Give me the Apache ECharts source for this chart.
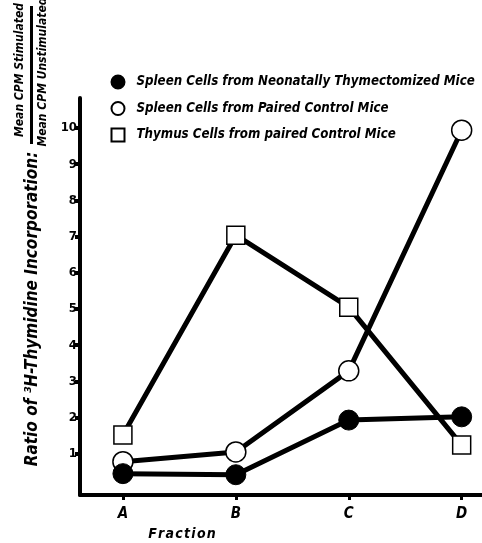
<!DOCTYPE html>
<html>
<head>
<meta charset="utf-8">
<script src="https://cdn.jsdelivr.net/npm/echarts@6/dist/echarts.min.js"></script>
<style>
  html, body { margin: 0; padding: 0; background: #fff; }
  #chart { width: 482px; height: 543px; }
</style>
</head>
<body>
<div id="chart"></div>
<script>
// fractions on the x axis
var categories = ['A', 'B', 'C', 'D']
// ratio values
var neonatalSpleen = [0.45, 0.42, 1.93, 2.02]
var pairedSpleen = [0.78, 1.05, 3.29, 9.94]
var pairedThymus = [1.52, 7.04, 5.05, 1.24]
var yTicks = [1, 2, 3, 4, 5, 6, 7, 8, 9, 10]

var seriesNames = [
  'Spleen Cells from Neonatally Thymectomized Mice',
  'Spleen Cells from Paired Control Mice',
  'Thymus Cells from paired Control Mice'
]

var FONT = '"DejaVu Sans Condensed", "Liberation Sans", sans-serif'

function toPoints(values) {
  var pts = []
  for (var i = 0; i < values.length; ++i) {
    pts.push([i, values[i]])
  }
  return pts
}

var chart = echarts.init(document.getElementById('chart'))

chart.setOption({
  animation: false,
  backgroundColor: '#fff',
  grid: {
    left: 80,
    right: 0,
    top: 98,
    bottom: 48
  },
  legend: {
    orient: 'vertical',
    left: 105.5,
    top: 69.5,
    itemWidth: 13,
    itemHeight: 13,
    itemGap: 11.5,
    data: [
      { name: seriesNames[0], icon: 'circle' },
      { name: seriesNames[1], icon: 'circle' },
      { name: seriesNames[2], icon: 'rect' }
    ],
    textStyle: {
      fontFamily: FONT,
      fontWeight: 'bold',
      fontStyle: 'italic',
      fontSize: 13.2,
      lineHeight: 15,
      color: '#000',
      padding: [0, 0, 0, 7]
    }
  },
  xAxis: {
    type: 'value',
    min: -0.38,
    max: 3.18,
    splitLine: { show: false },
    axisLine: { onZero: false, lineStyle: { color: '#000', width: 4 } },
    axisTick: { customValues: [0, 1, 2, 3], length: 5, lineStyle: { color: '#000', width: 3 } },
    axisLabel: {
      customValues: [0, 1, 2, 3],
      formatter: function (v) { return categories[Math.round(v)] },
      margin: 12,
      fontFamily: FONT,
      fontWeight: 'bold',
      fontStyle: 'italic',
      fontSize: 15,
      color: '#000'
    }
  },
  yAxis: {
    type: 'value',
    min: -0.14,
    max: 10.83,
    splitLine: { show: false },
    axisLine: { onZero: false, lineStyle: { color: '#000', width: 4 } },
    axisTick: { customValues: yTicks, length: 5, lineStyle: { color: '#000', width: 4 } },
    axisLabel: {
      customValues: yTicks,
      margin: 3,
      fontFamily: FONT,
      fontWeight: 'bold',
      fontSize: 13,
      color: '#000'
    }
  },
  graphic: [
    {
      type: 'text',
      x: 33,
      y: 309,
      rotation: Math.PI / 2,
      style: {
        text: 'Ratio of \u00b3H-Thymidine Incorporation:',
        align: 'center',
        verticalAlign: 'middle',
        font: 'italic bold 17px ' + FONT,
        fill: '#000'
      }
    },
    {
      type: 'text',
      x: 20,
      y: 70,
      rotation: Math.PI / 2,
      style: {
        text: 'Mean CPM Stimulated',
        align: 'center',
        verticalAlign: 'middle',
        font: 'italic bold 12px ' + FONT,
        fill: '#000'
      }
    },
    {
      type: 'rect',
      shape: { x: 30, y: 6, width: 3, height: 138 },
      style: { fill: '#000' }
    },
    {
      type: 'text',
      x: 43,
      y: 72,
      rotation: Math.PI / 2,
      style: {
        text: 'Mean CPM Unstimulated',
        align: 'center',
        verticalAlign: 'middle',
        font: 'italic bold 12px ' + FONT,
        fill: '#000'
      }
    },
    {
      type: 'text',
      x: 182,
      y: 534,
      style: {
        text: 'F\u200ar\u200aa\u200ac\u200at\u200ai\u200ao\u200an',
        align: 'center',
        verticalAlign: 'middle',
        font: 'italic bold 14px ' + FONT,
        fill: '#000'
      }
    }
  ],
  series: [
    {
      name: seriesNames[2],
      type: 'line',
      data: toPoints(pairedThymus),
      symbol: 'rect',
      symbolSize: 18,
      lineStyle: { color: '#000', width: 5 },
      itemStyle: { color: '#fff', borderColor: '#000', borderWidth: 1.5 }
    },
    {
      name: seriesNames[1],
      type: 'line',
      data: toPoints(pairedSpleen),
      symbol: 'circle',
      symbolSize: 20,
      lineStyle: { color: '#000', width: 5 },
      itemStyle: { color: '#fff', borderColor: '#000', borderWidth: 1.5 }
    },
    {
      name: seriesNames[0],
      type: 'line',
      data: toPoints(neonatalSpleen),
      symbol: 'circle',
      symbolSize: 20,
      lineStyle: { color: '#000', width: 5 },
      itemStyle: { color: '#000', borderColor: '#000', borderWidth: 1 }
    }
  ]
})
</script>
</body>
</html>
